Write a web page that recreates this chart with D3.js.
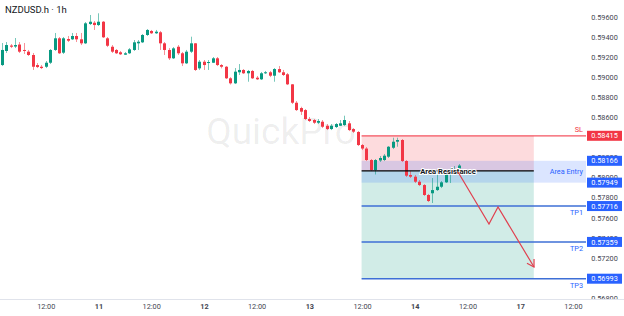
<!DOCTYPE html>
<html>
<head>
<meta charset="utf-8">
<script src="https://cdn.jsdelivr.net/npm/d3@7"></script>
<style>
  html, body { margin: 0; padding: 0; background: #fff; }
  svg { display: block; font-family: Roboto, "Noto Sans", sans-serif; }
  .tick text { fill: #434651; }
  .day-label { font-weight: bold; fill: #131722; }
</style>
</head>
<body>
<div id="chart"></div>
<script>
// hourly candles, NZDUSD.h
var opens = [0.59119,0.59259,0.59313,0.59303,0.59323,0.59269,0.59252,0.59219,0.59119,0.59102,
  0.59102,0.59142,0.59269,0.59385,0.59242,0.59378,0.59375,0.59408,0.59375,0.59335,
  0.59527,0.59540,0.59517,0.59550,0.59385,0.59301,0.59269,0.59246,0.59222,0.59236,
  0.59269,0.59335,0.59345,0.59418,0.59458,0.59435,0.59445,0.59335,0.59269,0.59186,
  0.59301,0.59236,0.59136,0.59252,0.59335,0.59086,0.59152,0.59139,0.59142,0.59186,
  0.59119,0.59102,0.58987,0.58937,0.59047,0.59070,0.59037,0.59060,0.58993,0.58977,
  0.59037,0.59047,0.59013,0.59079,0.59047,0.59027,0.58927,0.58744,0.58691,0.58671,
  0.58582,0.58572,0.58545,0.58555,0.58515,0.58482,0.58502,0.58515,0.58522,0.58539,
  0.58482,0.58453,0.58323,0.58288,0.58174,0.58074,0.58169,0.58174,0.58207,0.58296,
  0.58356,0.58373,0.58164,0.58025,0.58008,0.57958,0.57925,0.57826,0.57843,0.57875,
  0.57908,0.57952,0.58025,0.58055,0.58091];
var highs = [0.59338,0.59348,0.59328,0.59388,0.59348,0.59338,0.59269,0.59239,0.59139,0.59119,
  0.59159,0.59278,0.59438,0.59398,0.59398,0.59408,0.59438,0.59438,0.59438,0.59547,
  0.59617,0.59557,0.59634,0.59557,0.59398,0.59318,0.59278,0.59259,0.59249,0.59288,
  0.59368,0.59368,0.59428,0.59477,0.59468,0.59468,0.59458,0.59348,0.59288,0.59298,
  0.59318,0.59249,0.59269,0.59401,0.59338,0.59169,0.59169,0.59169,0.59199,0.59199,
  0.59129,0.59109,0.58999,0.59089,0.59129,0.59079,0.59070,0.59070,0.59010,0.59050,
  0.59060,0.59060,0.59089,0.59109,0.59070,0.59040,0.58930,0.58761,0.58704,0.58681,
  0.58602,0.58582,0.58582,0.58572,0.58532,0.58532,0.58542,0.58572,0.58615,0.58562,
  0.58492,0.58462,0.58333,0.58303,0.58184,0.58184,0.58214,0.58234,0.58313,0.58396,
  0.58396,0.58383,0.58174,0.58064,0.58025,0.57975,0.57935,0.57836,0.57995,0.58025,
  0.57965,0.58035,0.58094,0.58114,0.58134];
var lows = [0.59109,0.59239,0.59288,0.59288,0.59239,0.59229,0.59209,0.59070,0.59089,0.59079,
  0.59089,0.59129,0.59259,0.59229,0.59229,0.59348,0.59368,0.59348,0.59318,0.59328,
  0.59517,0.59468,0.59507,0.59388,0.59298,0.59239,0.59229,0.59219,0.59219,0.59229,
  0.59259,0.59269,0.59338,0.59408,0.59428,0.59428,0.59269,0.59219,0.59169,0.59179,
  0.59219,0.59109,0.59129,0.59239,0.59060,0.59070,0.59070,0.59070,0.59139,0.59109,
  0.59086,0.58980,0.58925,0.58930,0.59020,0.59030,0.58953,0.58980,0.58970,0.58970,
  0.59030,0.58999,0.58953,0.59040,0.59010,0.58920,0.58731,0.58662,0.58622,0.58572,
  0.58552,0.58532,0.58532,0.58492,0.58472,0.58472,0.58492,0.58512,0.58512,0.58462,
  0.58443,0.58313,0.58273,0.58164,0.58064,0.58030,0.58154,0.58164,0.58194,0.58283,
  0.58306,0.58154,0.58005,0.57995,0.57945,0.57915,0.57816,0.57756,0.57746,0.57866,
  0.57895,0.57945,0.57945,0.58035,0.58084];
var closes = [0.59269,0.59318,0.59301,0.59318,0.59252,0.59259,0.59219,0.59102,0.59099,0.59089,
  0.59142,0.59269,0.59385,0.59236,0.59385,0.59361,0.59408,0.59375,0.59335,0.59534,
  0.59550,0.59517,0.59550,0.59395,0.59311,0.59252,0.59236,0.59226,0.59236,0.59275,
  0.59345,0.59351,0.59418,0.59468,0.59435,0.59451,0.59335,0.59269,0.59186,0.59285,
  0.59236,0.59136,0.59252,0.59335,0.59070,0.59152,0.59119,0.59149,0.59186,0.59119,
  0.59102,0.58987,0.58937,0.59053,0.59070,0.59037,0.59060,0.58987,0.58977,0.59037,
  0.59047,0.59013,0.59079,0.59047,0.59020,0.58927,0.58744,0.58671,0.58655,0.58582,
  0.58562,0.58545,0.58562,0.58505,0.58482,0.58515,0.58532,0.58539,0.58572,0.58472,
  0.58456,0.58323,0.58288,0.58174,0.58074,0.58174,0.58194,0.58217,0.58306,0.58356,
  0.58373,0.58164,0.58018,0.58008,0.57958,0.57925,0.57826,0.57766,0.57875,0.57908,
  0.57952,0.58032,0.58055,0.58074,0.58119];

// axes
var priceTicks = [0.596,0.594,0.592,0.590,0.588,0.586,0.584,0.582,0.580,0.578,0.576,0.574,0.572,0.570,0.568];
var timeTickIdx = [10,22,34,46,58,70,82,94,106,118,130];
var timeTickLabels = ["12:00","11","12:00","12","12:00","13","12:00","14","12:00","17","12:00"];

// trade drawing
var zoneStartIdx = 81.9, zoneEndIdx = 121.1;
var slPrice = 0.58415;
var entryTop = 0.58166, entryBottom = 0.57949;
var resistancePrice = 0.58065;
var tpPrices = [0.57716, 0.57359, 0.56993];
var tpNames = ["TP1", "TP2", "TP3"];
var arrowIdx = [103.85, 110.9, 112.95, 121.15];
var arrowPrice = [0.58055, 0.57537, 0.57706, 0.57109];

var W = 624, H = 316;
var plotRight = 586, plotBottom = 299;
var green = "#089981", red = "#f23645", blue = "#2962ff";

var x = d3.scaleLinear().domain([0, 130]).range([1.8, 572.9]);
var y = d3.scaleLinear().domain([0.568, 0.596]).range([298.1, 16.7]);

var svg = d3.select("#chart").append("svg")
    .attr("width", W)
    .attr("height", H)
    .attr("viewBox", "0 0 " + W + " " + H);

svg.append("rect").attr("width", W).attr("height", H).attr("fill", "#fff");

svg.append("defs").append("clipPath").attr("id", "pane")
  .append("rect").attr("x", 0).attr("y", 0).attr("width", plotRight).attr("height", plotBottom);

// watermark
svg.append("text")
    .attr("x", 281).attr("y", 144)
    .attr("text-anchor", "middle")
    .style("font-size", "37px")
    .style("fill", "#000")
    .style("fill-opacity", 0.075)
    .text("QuickPro");

var pane = svg.append("g").attr("clip-path", "url(#pane)");

// risk / reward zones
var zx0 = x(zoneStartIdx), zx1 = x(zoneEndIdx);
pane.append("rect")
    .attr("x", zx0).attr("width", zx1 - zx0)
    .attr("y", y(slPrice)).attr("height", y(resistancePrice) - y(slPrice))
    .attr("fill", red).attr("fill-opacity", 0.18);
pane.append("rect")
    .attr("x", zx0).attr("width", zx1 - zx0)
    .attr("y", y(resistancePrice)).attr("height", y(tpPrices[2]) - y(resistancePrice))
    .attr("fill", green).attr("fill-opacity", 0.19);
pane.append("rect")
    .attr("x", zx0).attr("width", plotRight - zx0)
    .attr("y", y(entryTop)).attr("height", y(entryBottom) - y(entryTop))
    .attr("fill", blue).attr("fill-opacity", 0.17);

// candles
var candles = pane.append("g").selectAll("g")
    .data(d3.range(opens.length))
    .enter().append("g");

candles.append("line")
    .attr("x1", function(i) { return Math.round(x(i)) + 0.5; })
    .attr("x2", function(i) { return Math.round(x(i)) + 0.5; })
    .attr("y1", function(i) { return y(highs[i]); })
    .attr("y2", function(i) { return y(lows[i]); })
    .attr("stroke", function(i) { return closes[i] >= opens[i] ? green : red; })
    .attr("stroke-opacity", 0.55)
    .attr("stroke-width", 1);

candles.append("rect")
    .attr("x", function(i) { return Math.round(x(i)) - 1; })
    .attr("width", 3)
    .attr("y", function(i) { return y(Math.max(opens[i], closes[i])); })
    .attr("height", function(i) { return Math.max(1, Math.abs(y(opens[i]) - y(closes[i]))); })
    .attr("fill", function(i) { return closes[i] >= opens[i] ? green : red; });

// level lines
pane.append("line")
    .attr("x1", zx0).attr("x2", plotRight)
    .attr("y1", y(slPrice)).attr("y2", y(slPrice))
    .attr("stroke", red).attr("stroke-opacity", 0.85).attr("stroke-width", 1.3);

pane.selectAll(".tp-line")
    .data(tpPrices)
    .enter().append("line")
    .attr("class", "tp-line")
    .attr("x1", zx0).attr("x2", plotRight)
    .attr("y1", function(d) { return y(d); })
    .attr("y2", function(d) { return y(d); })
    .attr("stroke", "#3e6fd6").attr("stroke-width", 1.5);

pane.append("line")
    .attr("x1", zx0).attr("x2", zx1)
    .attr("y1", y(resistancePrice)).attr("y2", y(resistancePrice))
    .attr("stroke", "#000").attr("stroke-width", 1.2);

pane.append("text")
    .attr("x", 448).attr("y", y(resistancePrice) + 2.6)
    .attr("text-anchor", "middle")
    .style("font-size", "7.6px")
    .style("font-weight", "bold")
    .style("fill", "#131722")
    .style("stroke", "#fff").style("stroke-width", 2).style("paint-order", "stroke")
    .text("Area Resistance");

// projected path
var arrowPts = arrowIdx.map(function(d, k) { return [x(d), y(arrowPrice[k])]; });
pane.append("path")
    .attr("d", d3.line()(arrowPts))
    .attr("fill", "none").attr("stroke", "#e0404f").attr("stroke-width", 1.2);

var end = arrowPts[arrowPts.length - 1], prev = arrowPts[arrowPts.length - 2];
var ang = Math.atan2(end[1] - prev[1], end[0] - prev[0]);
var head = [ang - 2.6, ang + 2.6].map(function(a) { return [end[0] + 8 * Math.cos(a), end[1] + 8 * Math.sin(a)]; });
pane.append("path")
    .attr("d", d3.line()([head[0], end, head[1]]))
    .attr("fill", "none").attr("stroke", "#e0404f").attr("stroke-width", 1.2);

// drawing labels
svg.append("text")
    .attr("x", 583).attr("y", y(slPrice) - 4)
    .attr("text-anchor", "end")
    .style("font-size", "7.3px").style("fill", red)
    .text("SL");

svg.append("text")
    .attr("x", 583).attr("y", y((entryTop + entryBottom) / 2) + 2.6)
    .attr("text-anchor", "end")
    .style("font-size", "7.3px").style("fill", "#2962ff")
    .text("Area Entry");

svg.selectAll(".tp-name")
    .data(tpPrices)
    .enter().append("text")
    .attr("class", "tp-name")
    .attr("x", 583)
    .attr("y", function(d) { return y(d) + 9; })
    .attr("text-anchor", "end")
    .style("font-size", "7.3px").style("fill", "#2962ff")
    .text(function(d, k) { return tpNames[k]; });

// price tags (drawn over the axis, like the terminal does)
var tags = [
  {p: slPrice, c: red},
  {p: entryTop, c: blue},
  {p: entryBottom, c: blue},
  {p: tpPrices[0], c: blue},
  {p: tpPrices[1], c: blue},
  {p: tpPrices[2], c: blue}
];

// price axis; labels fully under a tag are not shown
var visibleTicks = priceTicks.filter(function(t) {
  return !tags.some(function(g) { return Math.abs(y(g.p) - y(t)) < 2.5; });
});
var priceAxis = svg.append("g")
    .attr("transform", "translate(604.5,0)")
    .call(d3.axisRight(y).tickValues(visibleTicks).tickSize(0).tickPadding(0)
        .tickFormat(d3.format(".5f")));
priceAxis.select(".domain").remove();
priceAxis.selectAll("text")
    .attr("text-anchor", "middle")
    .style("font-size", "7.3px")
    .style("font-family", "Roboto, sans-serif");

// time axis
svg.append("rect")
    .attr("x", 0).attr("y", plotBottom).attr("width", W).attr("height", H - plotBottom)
    .attr("fill", "#fff");
svg.append("line")
    .attr("x1", 0).attr("x2", W)
    .attr("y1", plotBottom + 0.5).attr("y2", plotBottom + 0.5)
    .attr("stroke", "#e0e3eb");

var timeAxis = svg.append("g")
    .attr("transform", "translate(0," + (plotBottom + 5) + ")")
    .call(d3.axisBottom(x).tickValues(timeTickIdx).tickSize(0).tickPadding(0)
        .tickFormat(function(d, k) { return timeTickLabels[k]; }));
timeAxis.select(".domain").remove();
timeAxis.selectAll("text")
    .attr("dy", "0.71em")
    .style("font-size", "7.3px")
    .style("font-family", "Roboto, sans-serif")
    .classed("day-label", function(d, k) { return timeTickLabels[k].indexOf(":") < 0; });

var tagG = svg.selectAll(".tag").data(tags).enter().append("g").attr("class", "tag");
tagG.append("rect")
    .attr("x", 587).attr("width", 35)
    .attr("y", function(d) { return y(d.p) - 5; })
    .attr("height", 10)
    .attr("fill", function(d) { return d.c; });
tagG.append("text")
    .attr("x", 604.5)
    .attr("y", function(d) { return y(d.p) + 2.6; })
    .attr("text-anchor", "middle")
    .style("font-size", "7.3px")
    .style("fill", "#fff")
    .text(function(d) { return d3.format(".5f")(d.p); });

// title
svg.append("text")
    .attr("x", 5).attr("y", 13.3)
    .style("font-size", "9.5px")
    .style("fill", "#131722")
    .text("NZDUSD.h \u00b7 1h");
</script>
</body>
</html>
